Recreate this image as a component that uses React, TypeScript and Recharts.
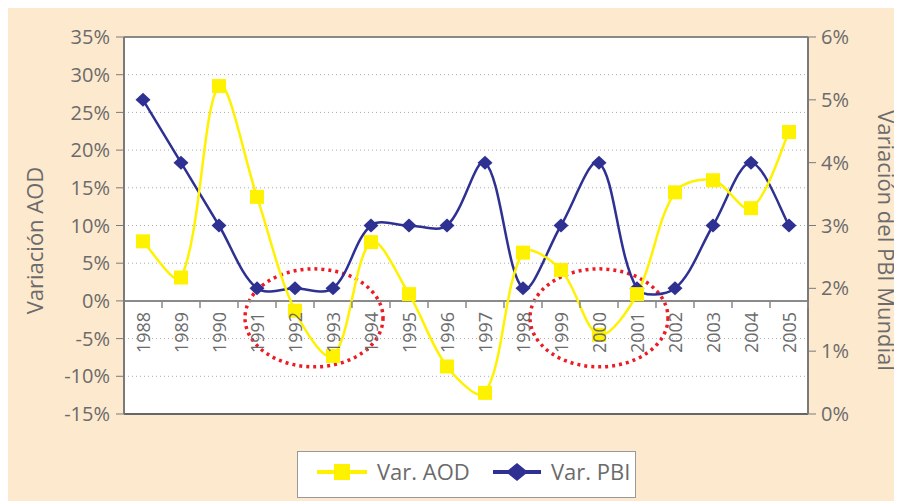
import React from "react";
import {
  LineChart,
  Line,
  XAxis,
  YAxis,
  CartesianGrid,
  ReferenceLine,
  ReferenceArea,
} from "recharts";

const YEARS = [
  "1988", "1989", "1990", "1991", "1992", "1993", "1994", "1995", "1996",
  "1997", "1998", "1999", "2000", "2001", "2002", "2003", "2004", "2005",
];
// Var. AOD (left axis, %)
const AOD = [7.9, 3.1, 28.5, 13.8, -1.3, -7.3, 7.8, 0.9, -8.7, -12.2, 6.4, 4.1, -4.5, 0.9, 14.4, 16.0, 12.3, 22.4];
// Var. PBI (right axis, %)
const PBI = [5, 4, 3, 2, 2, 2, 3, 3, 3, 4, 2, 3, 4, 2, 2, 3, 4, 3];
const LEFT_TICKS = [-15, -10, -5, 0, 5, 10, 15, 20, 25, 30, 35];
const RIGHT_TICKS = [0, 1, 2, 3, 4, 5, 6];

const W = 894;
const H = 493;
const PLOT_TOP = 29;
const PLOT_LEFT = 116;
const PLOT_RIGHT = 800;
const PLOT_BOTTOM = 406;
const HALF = (PLOT_RIGHT - PLOT_LEFT) / YEARS.length / 2;

const YELLOW = "#FFF200";
const NAVY = "#2E3192";
const TEXT = "#6B6B6B";
const FONT = "'Open Sans', 'DejaVu Sans', sans-serif";

const data = YEARS.map((year, i) => ({ year, aod: AOD[i], pbi: PBI[i] }));

const yLeft = (v: number) =>
  PLOT_TOP + ((PLOT_BOTTOM - PLOT_TOP) * (35 - v)) / 50;

// Excel-like smoothing: catmull-rom bezier, arms scaled by chord length
function smoothCurve(context: any) {
  let pts: number[][] = [];
  const dist = (a: number[], b: number[]) => Math.hypot(b[0] - a[0], b[1] - a[1]);
  return {
    areaStart() {},
    areaEnd() {},
    lineStart() {
      pts = [];
    },
    point(x: number, y: number) {
      pts.push([+x, +y]);
    },
    lineEnd() {
      const n = pts.length;
      if (!n) return;
      context.moveTo(pts[0][0], pts[0][1]);
      for (let i = 0; i < n - 1; i++) {
        const p0 = pts[i - 1] || pts[i];
        const p1 = pts[i];
        const p2 = pts[i + 1];
        const p3 = pts[i + 2] || pts[i + 1];
        const d01 = dist(p0, p1);
        const d12 = dist(p1, p2);
        const d23 = dist(p2, p3);
        const f1 = d01 > 0 ? d12 / (d01 + d12) / 3 : 1 / 6;
        const f2 = d23 > 0 ? d12 / (d12 + d23) / 3 : 1 / 6;
        context.bezierCurveTo(
          p1[0] + (p2[0] - p0[0]) * f1,
          p1[1] + (p2[1] - p0[1]) * f1,
          p2[0] - (p3[0] - p1[0]) * f2,
          p2[1] - (p3[1] - p1[1]) * f2,
          p2[0],
          p2[1]
        );
      }
    },
  };
}

function SquareDot({ cx, cy }: any) {
  if (cx == null || cy == null) return null;
  return <rect x={cx - 7} y={cy - 7} width={14} height={14} fill={YELLOW} />;
}

function DiamondDot({ cx, cy }: any) {
  if (cx == null || cy == null) return null;
  return (
    <path
      d={`M${cx},${cy - 7} L${cx + 7.5},${cy} L${cx},${cy + 7} L${cx - 7.5},${cy} Z`}
      fill={NAVY}
    />
  );
}

function YearTick({ x, payload }: any) {
  const zy = yLeft(0);
  const ty = zy + 11;
  return (
    <g>
      <line x1={x + HALF} x2={x + HALF} y1={zy} y2={zy + 7} stroke="#888" strokeWidth={1.5} />
      <text
        x={x}
        y={ty}
        transform={`rotate(-90 ${x} ${ty})`}
        textAnchor="end"
        dominantBaseline="central"
        fill={TEXT}
        fontSize={18}
        fontFamily={FONT}
      >
        {payload.value}
      </text>
    </g>
  );
}

function AxisTitle({ viewBox, side, text }: any) {
  const vb = viewBox || {};
  const cy = (vb.y ?? PLOT_TOP) + (vb.height ?? PLOT_BOTTOM - PLOT_TOP) / 2 + 15;
  const cx = side === "left" ? (vb.x ?? 0) + 26 : (vb.x ?? PLOT_RIGHT) + 79;
  return (
    <text
      x={cx}
      y={cy}
      transform={`rotate(${side === "left" ? -90 : 90} ${cx} ${cy})`}
      textAnchor="middle"
      dominantBaseline="central"
      fill={TEXT}
      fontSize={22}
      fontFamily={FONT}
    >
      {text}
    </text>
  );
}

const ellipse = (p: any) => (
  <ellipse
    cx={p.x + p.width / 2}
    cy={p.y + p.height / 2}
    rx={69}
    ry={49}
    fill="none"
    stroke="#ED1C24"
    strokeWidth={3.5}
    strokeDasharray="3 4"
  />
);

function LegendBox() {
  return (
    <div
      style={{
        position: "absolute",
        left: 289,
        top: 443,
        width: 339,
        height: 47,
        background: "#fff",
        border: "1.5px solid #999",
        boxSizing: "border-box",
      }}
    >
      <svg width={336} height={44} style={{ display: "block" }}>
        <line x1={19} x2={69} y1={20} y2={20} stroke={YELLOW} strokeWidth={4} />
        <rect x={36} y={12} width={16} height={16} fill={YELLOW} />
        <text x={79} y={28} fill={TEXT} fontSize={22} fontFamily={FONT}>
          Var. AOD
        </text>
        <line x1={195} x2={243} y1={20} y2={20} stroke={NAVY} strokeWidth={4} />
        <path d="M219,11 L230,20 L219,29 L208,20 Z" fill={NAVY} />
        <text x={253} y={28} fill={TEXT} fontSize={22} fontFamily={FONT}>
          Var. PBI
        </text>
      </svg>
    </div>
  );
}

export default function App() {
  return (
    <div style={{ position: "relative", width: W, height: H, background: "#FDE9CE" }}>
      <style>{"body{overflow:hidden}"}</style>
      <LineChart
        width={W}
        height={H}
        data={data}
        margin={{ top: PLOT_TOP, right: 0, left: 0, bottom: H - PLOT_BOTTOM - 1 }}
      >
        <CartesianGrid
          yAxisId="left"
          vertical={false}
          stroke="#aaa"
          strokeDasharray="1 3"
          fill="#fff"
          fillOpacity={1}
        />
        <XAxis
          dataKey="year"
          padding={{ left: HALF, right: HALF }}
          axisLine={false}
          tickLine={false}
          height={1}
          interval={0}
          tick={<YearTick />}
        />
        <YAxis
          yAxisId="left"
          domain={[-15, 35]}
          ticks={LEFT_TICKS}
          width={PLOT_LEFT}
          tickFormatter={(v) => `${v}%`}
          axisLine={{ stroke: "#7a7a7a", strokeWidth: 2 }}
          tickLine={{ stroke: "#7a7a7a" }}
          tickSize={8}
          tickMargin={6}
          tick={{ fill: TEXT, fontSize: 20, fontFamily: FONT }}
          label={<AxisTitle side="left" text="Variación AOD" />}
        />
        <YAxis
          yAxisId="right"
          orientation="right"
          domain={[0, 6]}
          ticks={RIGHT_TICKS}
          width={W - PLOT_RIGHT}
          tickFormatter={(v) => `${v}%`}
          axisLine={{ stroke: "#7a7a7a", strokeWidth: 2 }}
          tickLine={{ stroke: "#7a7a7a" }}
          tickSize={8}
          tickMargin={5}
          tick={{ fill: TEXT, fontSize: 20, fontFamily: FONT, textAnchor: "start" }}
          label={<AxisTitle side="right" text="Variación del PBI Mundial" />}
        />
        <ReferenceLine yAxisId="left" y={35} stroke="#888" strokeWidth={2} />
        <ReferenceLine yAxisId="left" y={-15} stroke="#666" strokeWidth={2} />
        <ReferenceLine yAxisId="left" y={0} stroke="#8a8a8a" strokeWidth={2} />
        <Line
          yAxisId="right"
          dataKey="pbi"
          type={smoothCurve as any}
          stroke={NAVY}
          strokeWidth={2.5}
          dot={<DiamondDot />}
          activeDot={false}
          isAnimationActive={false}
        />
        <Line
          yAxisId="left"
          dataKey="aod"
          type={smoothCurve as any}
          stroke={YELLOW}
          strokeWidth={2.5}
          dot={<SquareDot />}
          activeDot={false}
          isAnimationActive={false}
        />
        <ReferenceArea
          yAxisId="left"
          x1="1991"
          x2="1994"
          y1={-9}
          y2={4.5}
          ifOverflow="visible"
          shape={ellipse}
        />
        <ReferenceArea
          yAxisId="left"
          x1="1999"
          x2="2001"
          y1={-9}
          y2={4.5}
          ifOverflow="visible"
          shape={ellipse}
        />
      </LineChart>
      <LegendBox />
    </div>
  );
}
